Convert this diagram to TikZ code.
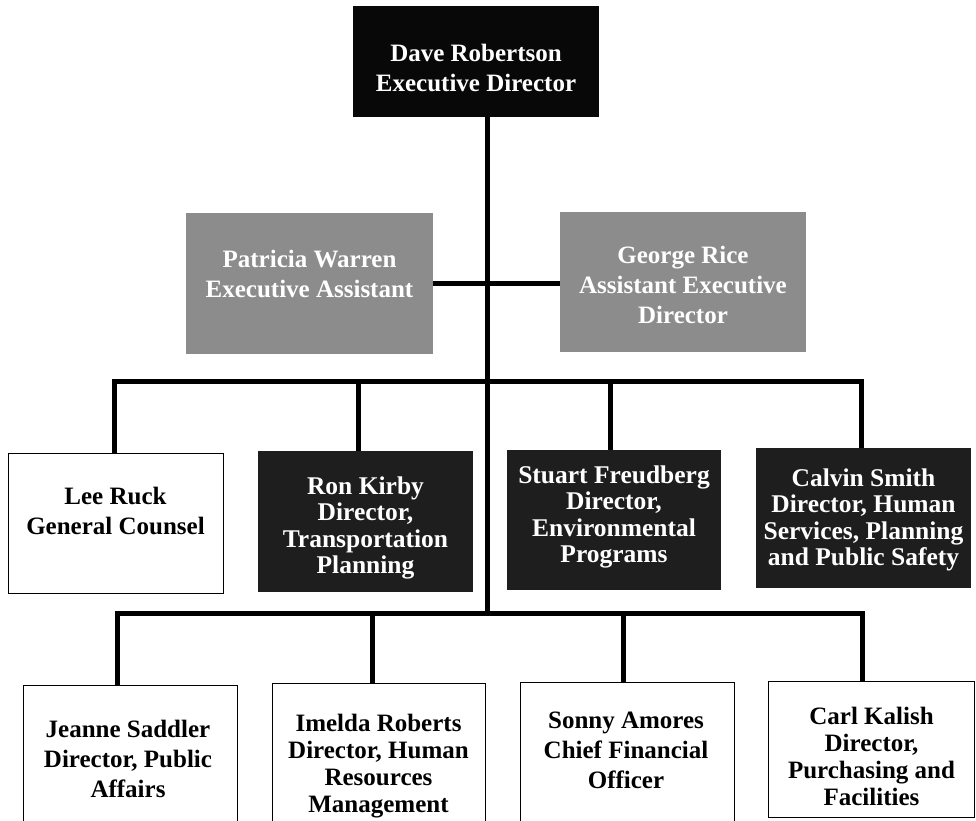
\documentclass[tikz,border=0pt]{standalone}
\usepackage{fontspec}
\setmainfont{Liberation Serif}
\definecolor{boxblack}{HTML}{080808}
\definecolor{boxdark}{HTML}{1E1E1E}
\definecolor{boxgray}{HTML}{8C8C8C}
\tikzset{
  boxbase/.style={rectangle, inner sep=0pt, anchor=north west},
  blackbox/.style={boxbase, fill=boxblack},
  graybox/.style={boxbase, fill=boxgray},
  darkbox/.style={boxbase, fill=boxdark},
  whitebox/.style={boxbase, draw=black, line width=1.3pt, fill=white},
  wtext/.style={align=center, text=white, inner sep=0pt, font=\bfseries\fontsize{25}{30}\selectfont},
  wtextd/.style={align=center, text=white, inner sep=0pt, font=\bfseries\fontsize{25.5}{26.5}\selectfont},
  btext/.style={align=center, text=black, inner sep=0pt, font=\bfseries\fontsize{25}{30}\selectfont},
  btextd/.style={align=center, text=black, inner sep=0pt, font=\bfseries\fontsize{25}{27}\selectfont},
  conn/.style={draw=black, line width=5pt, line join=miter},
}
\begin{document}
\begin{tikzpicture}[x=1pt,y=-1pt]
\useasboundingbox (0,0) rectangle (976,820);
% boxes
\node[blackbox, minimum width=246pt, minimum height=111pt] (top) at (353,6) {};
\node[graybox, minimum width=247pt, minimum height=141pt] (pat) at (186,213) {};
\node[graybox, minimum width=246pt, minimum height=140pt] (geo) at (560,212) {};
\node[whitebox, minimum width=215pt, minimum height=140pt] (lee) at (8,453) {};
\node[darkbox, minimum width=215pt, minimum height=141pt] (ron) at (258,451) {};
\node[darkbox, minimum width=214pt, minimum height=140pt] (stu) at (507,450) {};
\node[darkbox, minimum width=215pt, minimum height=140pt] (cal) at (756,448) {};
\node[whitebox, minimum width=214pt, minimum height=140pt] (jea) at (23,685) {};
\node[whitebox, minimum width=213pt, minimum height=142pt] (ime) at (272,683) {};
\node[whitebox, minimum width=214pt, minimum height=143pt] (son) at (520,682) {};
\node[whitebox, minimum width=206pt, minimum height=136pt] (car) at (768,681) {};
% texts
\node[wtext] (topT) at (476,68) {Dave Robertson\\Executive Director};
\node[wtext] (patT) at (309.5,274) {Patricia Warren\\Executive Assistant};
\node[wtext] (geoT) at (683,285) {George Rice\\Assistant Executive\\Director};
\node[btext] (leeT) at (115.5,511) {Lee Ruck\\General Counsel};
\node[wtextd] (ronT) at (365.5,528) {Ron Kirby\\Director,\\Transportation\\Planning};
\node[wtextd] (stuT) at (614,517) {Stuart Freudberg\\Director,\\Environmental\\Programs};
\node[wtextd] (calT) at (863.5,520) {Calvin Smith\\Director, Human\\Services, Planning\\and Public Safety};
\node[btext] (jeaT) at (128,759) {Jeanne Saddler\\Director, Public\\Affairs};
\node[btextd] (imeT) at (378.5,766) {Imelda Roberts\\Director, Human\\Resources\\Management};
\node[btext] (sonT) at (626,750) {Sonny Amores\\Chief Financial\\Officer};
\node[btextd] (carT) at (871.5,756) {Carl Kalish\\Director,\\Purchasing and\\Facilities};
% bus coordinates
\coordinate (lk) at (487,283);
\coordinate (ubus) at (487,381);
\coordinate (lbus) at (487,613);
% connectors
\draw[conn] (top.south -| lk) -- (lbus);
\draw[conn] (pat.east |- lk) -- (geo.west |- lk);
\draw[conn] ([xshift=-1.5pt]lee.north) -- ([xshift=-1.5pt]lee.north |- ubus) -- ([xshift=-2.5pt]cal.north |- ubus) -- ([xshift=-2.5pt]cal.north);
\draw[conn] ([xshift=-7.5pt]ron.north) -- ([xshift=-7.5pt]ron.north |- ubus);
\draw[conn] ([xshift=-4pt]stu.north) -- ([xshift=-4pt]stu.north |- ubus);
\draw[conn] ([xshift=-13pt]jea.north) -- ([xshift=-13pt]jea.north |- lbus) -- ([xshift=-9.5pt]car.north |- lbus) -- ([xshift=-9.5pt]car.north);
\draw[conn] ([xshift=-6.5pt]ime.north) -- ([xshift=-6.5pt]ime.north |- lbus);
\draw[conn] ([xshift=-4pt]son.north) -- ([xshift=-4pt]son.north |- lbus);
\end{tikzpicture}
\end{document}
